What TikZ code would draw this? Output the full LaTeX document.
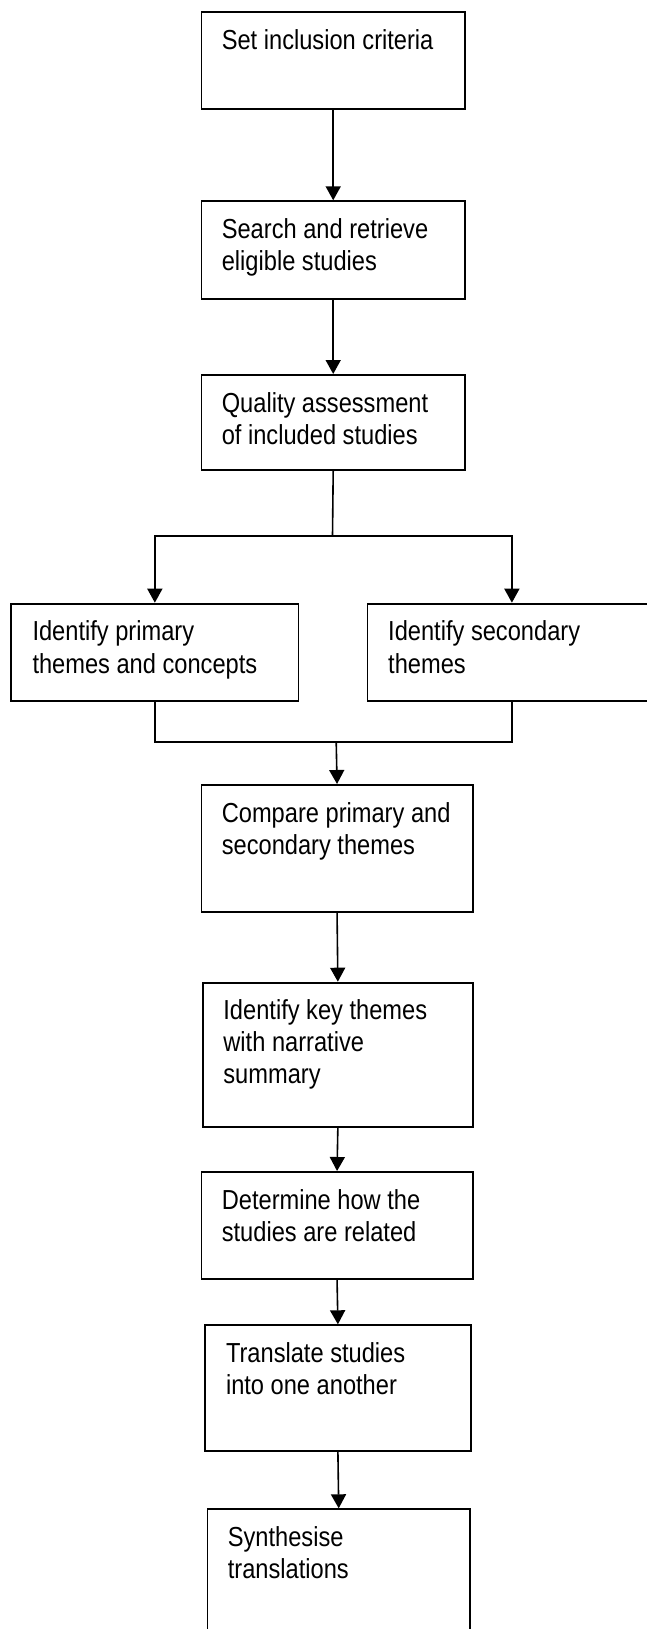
\documentclass[tikz,border=0pt]{standalone}
\usepackage{fontspec}
\setmainfont{Liberation Sans}[FakeStretch=0.86]
\usetikzlibrary{calc,arrows.meta}

\begin{document}
\begin{tikzpicture}[x=1pt,y=-1pt,
        box/.style={draw, line width=1.8pt, anchor=north west, inner sep=0pt},
        txt/.style={anchor=base west, inner sep=0pt, font=\fontsize{27.5}{32.3}\selectfont},
        link/.style={line width=1.6pt},
        arr/.style={line width=1.6pt, -{Triangle[length=14pt,width=15pt]}}]
                \useasboundingbox (0,0) rectangle (647,1629);
                \clip (0,0) rectangle (647,1629);
                \def\crit{Set inclusion criteria}
                \def\search{Search and retrieve\\eligible studies}
                \def\quality{Quality assessment\\of included studies}
                \def\primary{Identify primary\\themes and concepts}
                \def\second{Identify secondary\\themes}
                \def\compare{Compare primary and\\secondary themes}
                \def\keythemes{Identify key themes\\with narrative\\summary}
                \def\related{Determine how the\\studies are related}
                \def\translate{Translate studies\\into one another}
                \def\synth{Synthesise\\translations}
                % boxes
                \node[box, minimum width=263.4pt, minimum height=97.3pt] (A) at (200.6,11) {};
                \node[box, minimum width=263.4pt, minimum height=97.4pt] (B) at (200.6,200.3) {};
                \node[box, minimum width=263.4pt, minimum height=95.3pt] (C) at (200.6,374) {};
                \node[box, minimum width=287.3pt, minimum height=97pt] (D) at (10.3,602.7) {};
                \node[box, minimum width=289pt, minimum height=97pt] (E) at (366.5,602.7) {};
                \node[box, minimum width=271.1pt, minimum height=127pt] (F) at (200.6,784) {};
                \node[box, minimum width=269.5pt, minimum height=144.3pt] (G) at (202.2,981.7) {};
                \node[box, minimum width=271.1pt, minimum height=107pt] (H) at (200.6,1171) {};
                \node[box, minimum width=265.4pt, minimum height=125.4pt] (I) at (204.3,1324.3) {};
                \node[box, minimum width=262.4pt, minimum height=160pt] (J) at (206.6,1508.3) {};
                % texts
                \node[txt] (tA) at ($(A.north west)+(21,38.3)$) {\parbox[t]{240pt}{\crit}};
                \node[txt] (tB) at ($(B.north west)+(21,38.3)$) {\parbox[t]{240pt}{\search}};
                \node[txt] (tC) at ($(C.north west)+(21,38.3)$) {\parbox[t]{240pt}{\quality}};
                \node[txt] (tD) at ($(D.north west)+(22,38)$) {\parbox[t]{260pt}{\primary}};
                \node[txt] (tE) at ($(E.north west)+(21.5,38)$) {\parbox[t]{260pt}{\second}};
                \node[txt] (tF) at ($(F.north west)+(21,38)$) {\parbox[t]{250pt}{\compare}};
                \node[txt] (tG) at ($(G.north west)+(21,37.6)$) {\parbox[t]{250pt}{\keythemes}};
                \node[txt] (tH) at ($(H.north west)+(21,38)$) {\parbox[t]{250pt}{\related}};
                \node[txt] (tI) at ($(I.north west)+(21.5,38)$) {\parbox[t]{240pt}{\translate}};
                \node[txt] (tJ) at ($(J.north west)+(21,37.7)$) {\parbox[t]{240pt}{\synth}};
                % connectors
                \coordinate (split) at (332.5,535.7);
                \coordinate (join) at (336.2,741.7);
                \draw[arr] (A.south) -- (B.north);
                \draw[arr] (B.south) -- (C.north);
                \draw[link] (C.south) -- (split);
                \draw[arr] (split) -| (D.north);
                \draw[arr] (split) -| (E.north);
                \draw[link] (D.south) |- (join) -| (E.south);
                \draw[arr] (join) -- (F.north);
                \draw[arr] (F.south) -- (G.north);
                \draw[arr] (G.south) -- (H.north);
                \draw[arr] (H.south) -- (I.north);
                \draw[arr] (I.south) -- (J.north);
            \end{tikzpicture}
\end{document}
